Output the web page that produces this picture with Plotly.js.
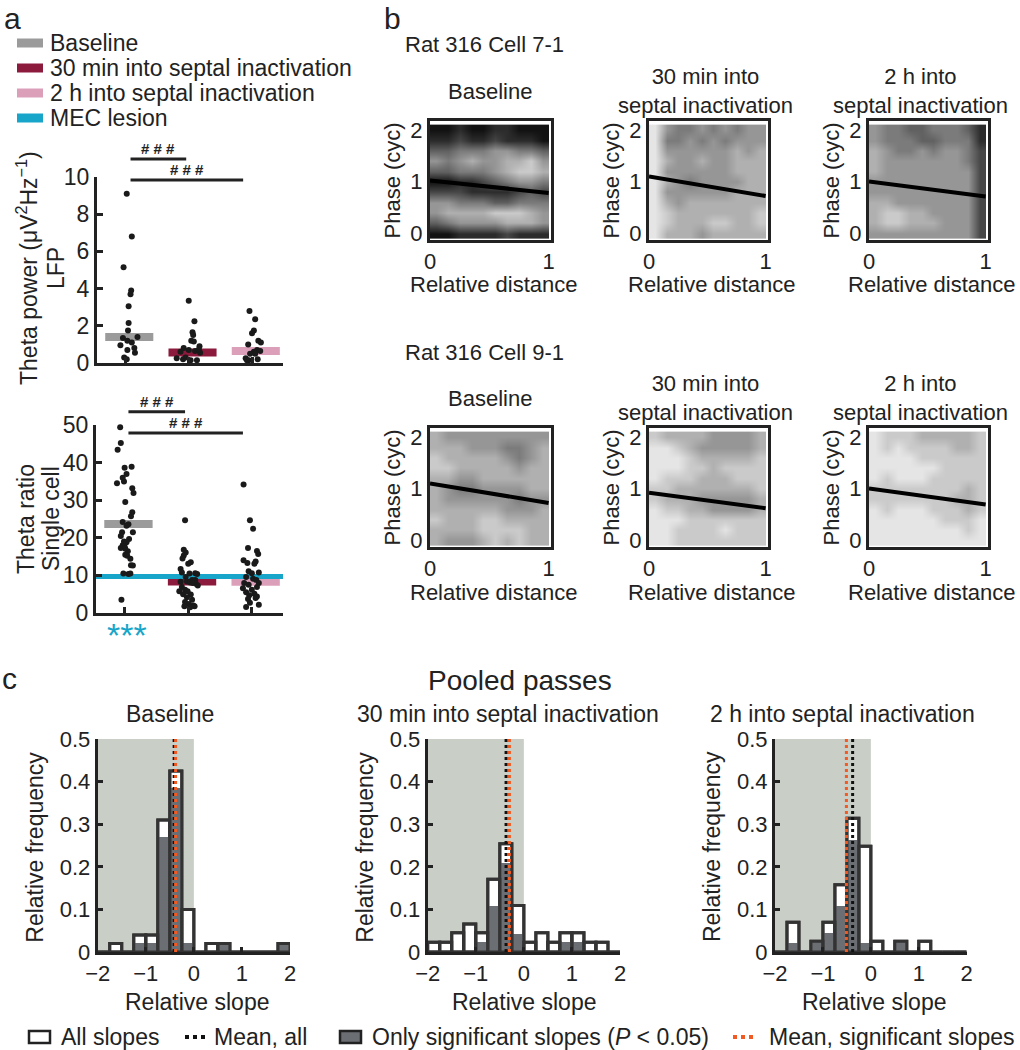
<!DOCTYPE html>
<html>
<head>
<meta charset="utf-8">
<script src="https://cdn.plot.ly/plotly-3.0.1.min.js"></script>
<style>body{margin:0;background:#fff}#chart{width:1020px;height:1050px}</style>
</head>
<body>
<div id="chart"></div>
<script>
// ---------- panel a: theta power / theta ratio ----------
const groups = ['Baseline', '30 min into septal inactivation', '2 h into septal inactivation'];
const groupColors = ['#9b9b9b', '#8b1a3c', '#dc9fba'];
const lesionColor = '#17a6c9';

const lfpMeans = [1.4, 0.57, 0.65];
const lfpBase = [9.1, 6.8, 5.15, 3.9, 3.7, 3.05, 2.15, 1.75, 1.35, 1.4, 1.2, 1.1, 0.95, 0.7, 0.8, 0.55, 0.3, 0.2];
const lfpBaseJit = [0.02, 0.10, -0.03, 0.09, 0.08, 0.05, 0.05, 0.04, -0.04, 0.19, 0.03, 0.10, -0.08, 0.03, 0.14, 0.15, -0.02, 0.02];
const lfp30 = [3.35, 2.25, 1.65, 1.5, 1.2, 1.15, 0.9, 0.8, 0.7, 0.65, 0.6, 0.55, 0.25, 0.2, 0.15, 0.15, 0.3, 0.72];
const lfp30Jit = [0, 0.09, 0.06, 0.07, 0.04, 0.08, 0.17, -0.08, 0, 0.10, -0.13, 0.18, -0.19, -0.09, 0.03, 0.13, -0.05, 0.16];
const lfp2h = [2.8, 2.35, 1.75, 1.6, 1.2, 1.1, 1.0, 0.7, 0.65, 0.6, 0.5, 0.25, 0.15, 0.2, 0.15, 0.5];
const lfp2hJit = [-0.04, 0.05, 0.03, 0, 0.10, 0.14, -0.06, 0.08, 0.13, 0.03, -0.03, -0.10, -0.05, 0.09, -0.08, 0.05];

const ratioMeans = [23.7, 8.4, 8.3];
const lesionRatio = 9.7;
const ratioBase = [49.4, 45.2, 43.4, 38.6, 38.9, 34.5, 37.0, 36.0, 35.0, 33.2, 31.9, 29.5, 26.8, 25.7, 24.2, 23.6, 23.2, 21.5, 21.5, 20.5, 19.7, 19.0, 18.8, 18.0, 17.3, 17.6, 16.4, 15.5, 14.4, 12.7, 12.6, 10.5, 10.4, 10.5, 3.5, 17.1, 15.2];
const ratioBaseJit = [-0.07, -0.06, -0.11, 0, 0.11, -0.12, 0.03, -0.03, -0.01, 0.12, 0.14, 0.01, 0.12, 0.10, -0.03, 0.06, 0.03, -0.04, 0.13, -0.06, 0.07, -0.01, 0.03, -0.03, -0.06, 0, 0.05, 0.01, 0.09, 0.10, 0.13, -0.02, 0.06, 0.09, -0.05, 0.01, 0.04];
const ratio30 = [24.7, 16.8, 16.1, 15.3, 14.5, 13.5, 13.1, 11.7, 10.8, 10.5, 10.6, 10.4, 9.6, 8.8, 8.8, 8.3, 8.4, 8.1, 7.8, 6.9, 6.2, 5.8, 5.8, 5.0, 4.9, 4.2, 3.5, 2.9, 2.4, 2.0, 1.8, 1.5, 1.8, 8.0, 7.3];
const ratio30Jit = [-0.05, -0.07, -0.04, -0.07, -0.09, 0.04, 0, -0.12, -0.10, 0.02, 0.11, 0.14, -0.04, 0.06, 0.11, -0.12, -0.02, 0.03, 0.12, -0.10, -0.05, -0.01, -0.14, -0.08, 0.04, -0.02, 0.06, -0.05, 0.01, 0.08, -0.06, 0.03, 0.10, 0.07, 0.15];
const ratio2h = [34.2, 24.7, 22.4, 17.3, 16.5, 15.7, 14.0, 13.3, 13.7, 13.1, 11.1, 10.6, 10.8, 9.6, 9.1, 8.8, 8.0, 7.5, 8.0, 6.9, 6.6, 6.2, 5.5, 5.1, 4.7, 4.4, 3.7, 4.0, 1.6, 2.2, 2.7];
const ratio2hJit = [-0.13, -0.03, 0.02, -0.06, 0.08, 0.10, -0.13, -0.07, 0.06, 0.04, -0.05, 0, 0.11, -0.09, 0.02, 0.07, -0.12, -0.05, 0.11, 0.08, -0.14, 0, -0.09, 0.04, -0.04, 0.08, -0.06, 0.06, -0.09, 0.11, -0.03];

// significance brackets (from, to, height)
const lfpBrFrom = [1.08, 1.08], lfpBrTo = [1.96, 2.86], lfpBrY = [10.97, 9.84];
const ratioBrFrom = [1.06, 1.06], ratioBrTo = [1.95, 2.86], ratioBrY = [53.5, 47.9];

// ---------- panel b: phase precession examples ----------
const cellNames = ['Rat 316 Cell 7-1', 'Rat 316 Cell 9-1'];
const conditionTitles = ['Baseline', '30 min into<br>septal inactivation', '2 h into<br>septal inactivation'];
const distCenters = [0.05, 0.15, 0.25, 0.35, 0.45, 0.55, 0.65, 0.75, 0.85, 0.95];
const phaseCenters = [0.0, 0.2, 0.4, 0.6, 0.8, 1.0, 1.2, 1.4, 1.6, 1.8, 2.0];
// spike density, rows listed top (phase 2) to bottom (phase 0)
const dens71Base = [
  [9,9,8,9,9,8,8,9,9,9],[8,8,7,8,8,7,8,8,8,9],[6,6,5,5,5,4,4,5,5,6],[4,5,4,3,4,4,3,3,2,4],
  [6,6,5,5,5,4,3,2,2,3],[9,9,8,8,7,6,5,4,4,5],[7,7,7,8,8,8,8,7,6,7],[4,4,5,5,5,6,6,5,5,5],
  [4,3,3,3,3,2,2,2,3,4],[6,5,4,4,4,4,3,3,3,4],[9,9,8,8,8,8,7,8,8,8]];
const dens7130 = [
  [1,4,5,5,4,5,4,5,4,4],[1,5,5,4,5,4,5,4,4,4],[1,4,4,4,4,4,4,3,4,3],[1,3,4,4,3,4,4,3,3,3],
  [1,4,4,4,4,4,4,3,3,3],[1,3,4,5,4,4,4,4,3,3],[1,4,4,4,4,4,4,3,3,3],[1,3,4,3,3,3,3,3,3,3],
  [1,2,3,3,3,3,3,3,3,2],[1,2,3,3,3,2,2,3,3,2],[1,3,3,3,4,3,3,3,3,3]];
const dens712h = [
  [4,5,5,6,6,5,5,5,6,8],[4,5,5,5,6,6,5,5,5,8],[3,4,5,5,4,5,4,4,5,7],[3,4,4,4,4,4,4,4,5,7],
  [3,4,4,4,4,4,4,4,4,7],[4,4,4,4,4,4,4,4,4,7],[4,4,4,4,4,4,4,4,4,7],[3,3,4,4,4,4,4,4,4,7],
  [3,2,2,3,3,4,4,4,4,7],[3,2,2,3,3,3,4,4,4,7],[4,4,4,4,4,4,4,4,4,7]];
const dens91Base = [
  [3,4,4,4,4,4,4,4,4,4],[3,3,3,4,4,4,5,5,4,3],[2,3,3,3,3,3,4,5,4,3],[2,2,3,3,3,3,3,4,3,3],
  [3,3,4,4,3,3,3,3,3,3],[3,4,5,5,4,4,4,4,3,3],[3,4,4,4,4,4,4,5,4,4],[3,3,3,3,3,3,4,4,4,3],
  [2,3,3,3,2,2,3,3,3,3],[3,3,3,3,2,2,2,2,3,3],[3,4,4,4,3,2,3,2,3,3]];
const dens9130 = [
  [2,3,3,3,3,4,4,4,4,3],[1,1,2,3,4,4,4,4,4,3],[1,1,1,2,3,3,3,3,3,2],[1,1,1,2,2,3,2,2,2,2],
  [1,2,2,2,3,3,3,2,2,2],[2,2,3,3,3,3,3,3,3,2],[2,3,3,3,4,4,4,4,4,3],[1,2,2,3,3,4,4,4,4,3],
  [1,1,1,2,2,2,2,2,2,2],[1,1,2,2,2,2,1,2,2,2],[1,1,2,2,2,2,2,2,2,2]];
const dens912h = [
  [1,2,2,2,3,3,3,3,3,2],[1,2,1,2,2,2,2,3,3,2],[1,1,1,1,2,2,2,2,2,2],[1,1,1,1,1,1,2,2,2,2],
  [1,2,1,1,1,2,2,2,2,2],[2,2,2,2,2,2,2,2,3,2],[2,2,2,2,2,2,2,3,3,2],[1,2,1,1,1,2,2,2,3,2],
  [1,1,1,1,1,1,2,2,2,1],[1,1,1,1,1,1,1,1,2,1],[1,1,1,1,1,1,1,1,1,1]];
const densities = [dens71Base, dens7130, dens712h, dens91Base, dens9130, dens912h];
const regStart = [1.02, 1.1, 1.0, 1.1, 0.92, 1.0];
const regEnd = [0.78, 0.72, 0.71, 0.72, 0.62, 0.69];
const regDist = [0, 1];

// ---------- panel c: pooled slope histograms ----------
const slopeBins = [-1.875, -1.625, -1.375, -1.125, -0.875, -0.625, -0.375, -0.125, 0.125, 0.375, 0.625, 0.875, 1.125, 1.375, 1.625, 1.875];
const histTitles = ['Baseline', '30 min into septal inactivation', '2 h into septal inactivation'];
const allBase = [0, 0.02, 0, 0.04, 0.04, 0.31, 0.425, 0.10, 0, 0.02, 0.02, 0, 0, 0, 0, 0.02];
const sigBase = [0, 0, 0, 0.02, 0.02, 0.27, 0.385, 0.02, 0, 0, 0.02, 0, 0, 0, 0, 0.02];
const all30 = [0.023, 0.023, 0.045, 0.066, 0.045, 0.171, 0.254, 0.109, 0.023, 0.045, 0.023, 0.045, 0.045, 0.023, 0.023, 0];
const sig30 = [0, 0, 0, 0, 0.023, 0.107, 0.21, 0.043, 0, 0, 0, 0.023, 0.023, 0, 0, 0];
const all2h = [0, 0.07, 0, 0.025, 0.07, 0.158, 0.314, 0.248, 0.025, 0, 0.025, 0, 0.025, 0, 0, 0];
const sig2h = [0, 0.021, 0, 0.025, 0.045, 0.109, 0.263, 0.021, 0, 0, 0.025, 0, 0, 0, 0, 0];
const meanAll = [-0.41, -0.37, -0.38];
const meanSig = [-0.38, -0.30, -0.51];
const shadeSpan = [-2, 0];

// ---------- drawing ----------
const FONT = 'Liberation Sans, Arial, Helvetica, sans-serif';
const INK = '#222';
const fx = p => p / 1020;
const fy = p => 1 - p / 1050;

function ax(o) {
  return Object.assign({
    showgrid: false, zeroline: false, showline: true, linecolor: INK, linewidth: 3,
    ticks: 'inside', ticklen: 6, tickwidth: 3, tickcolor: INK,
    tickfont: {family: FONT, size: 23, color: INK}, fixedrange: true
  }, o);
}

const data = [];
const layout = {
  width: 1020, height: 1050, margin: {l: 0, r: 0, t: 0, b: 0},
  paper_bgcolor: '#fff', plot_bgcolor: 'rgba(0,0,0,0)',
  showlegend: false, barmode: 'overlay', bargap: 0,
  font: {family: FONT, color: INK}, annotations: [], shapes: []
};
function note(text, x, y, o) {
  layout.annotations.push(Object.assign({
    text: text, x: fx(x), y: fy(y), xref: 'paper', yref: 'paper', showarrow: false,
    xanchor: 'center', yanchor: 'middle', font: {family: FONT, size: 23, color: INK}
  }, o || {}));
}

// panel a axes
const catRange = [0.55, 3.49];
layout.xaxis = ax({domain: [fx(97), fx(283)], range: catRange, anchor: 'y', tickvals: [1, 2, 3], showticklabels: false});
layout.yaxis = ax({domain: [fy(363), fy(177)], range: [0, 10], anchor: 'x', tickvals: [0, 2, 4, 6, 8, 10]});
layout.yaxis2 = {domain: [fy(363), fy(140)], range: [0, (363 - 140) / ((363 - 177) / 10)], anchor: 'x', visible: false, fixedrange: true};
layout.xaxis2 = ax({domain: [fx(96), fx(283)], range: catRange, anchor: 'y3', tickvals: [1, 2, 3], showticklabels: false});
layout.yaxis3 = ax({domain: [fy(613), fy(425)], range: [0, 50], anchor: 'x2', tickvals: [0, 10, 20, 30, 40, 50]});
layout.yaxis4 = {domain: [fy(613), fy(395)], range: [0, (613 - 395) / ((613 - 425) / 50)], anchor: 'x2', visible: false, fixedrange: true};

const meanOffset = 0.06, meanHalf = 0.38;
function meanBars(means, xa, ya) {
  means.forEach((m, i) => {
    const c = i + 1 + meanOffset;
    data.push({type: 'scatter', mode: 'lines', x: [c - meanHalf, c + meanHalf], y: [m, m], xaxis: xa, yaxis: ya,
      line: {color: groupColors[i], width: 8}, hoverinfo: 'skip'});
  });
}
function dots(vals, jit, cat, xa, ya) {
  data.push({type: 'scatter', mode: 'markers', x: jit.map(j => cat + j), y: vals, xaxis: xa, yaxis: ya,
    cliponaxis: false, marker: {color: '#1a1a1a', size: 6}, hoverinfo: 'skip'});
}
function brackets(from, to, ys, xa, ya, xref, yref) {
  from.forEach((f, i) => {
    data.push({type: 'scatter', mode: 'lines', x: [f, to[i]], y: [ys[i], ys[i]], xaxis: xa, yaxis: ya,
      line: {color: INK, width: 3}, hoverinfo: 'skip'});
    layout.annotations.push({text: '<b># # #</b>', x: (f + to[i]) / 2, y: ys[i], xref: xref, yref: yref, showarrow: false,
      xanchor: 'center', yanchor: 'bottom', font: {family: FONT, size: 15, color: INK}});
  });
}

meanBars(lfpMeans, 'x', 'y');
dots(lfpBase, lfpBaseJit, 1, 'x', 'y');
dots(lfp30, lfp30Jit, 2, 'x', 'y');
dots(lfp2h, lfp2hJit, 3, 'x', 'y');
brackets(lfpBrFrom, lfpBrTo, lfpBrY, 'x', 'y2', 'x', 'y2');

meanBars(ratioMeans, 'x2', 'y3');
data.push({type: 'scatter', mode: 'lines', x: catRange, y: [lesionRatio, lesionRatio], xaxis: 'x2', yaxis: 'y3',
  line: {color: lesionColor, width: 5}, hoverinfo: 'skip'});
dots(ratioBase, ratioBaseJit, 1, 'x2', 'y3');
dots(ratio30, ratio30Jit, 2, 'x2', 'y3');
dots(ratio2h, ratio2hJit, 3, 'x2', 'y3');
brackets(ratioBrFrom, ratioBrTo, ratioBrY, 'x2', 'y4', 'x2', 'y4');

// panel a legend
const legendLabels = groups.concat(['MEC lesion']);
const legendColors = groupColors.concat([lesionColor]);
legendLabels.forEach((lab, i) => {
  const yc = 43 + i * 25;
  layout.shapes.push({type: 'rect', xref: 'paper', yref: 'paper', x0: fx(17), x1: fx(43), y0: fy(yc + 4.5), y1: fy(yc - 4.5),
    fillcolor: legendColors[i], line: {width: 0}});
  note(lab, 48, yc, {xanchor: 'left'});
});
note('Theta power (μV<sup>2</sup>Hz<sup>−1</sup>)', 27, 268, {textangle: -90});
note('LFP', 56, 268, {textangle: -90});
note('Theta ratio', 26, 519, {textangle: -90});
note('Single cell', 51, 519, {textangle: -90});
note('***', 127, 635, {font: {family: FONT, size: 34, color: lesionColor}});

// panel b
const bCols = [[430, 551], [649, 768], [869, 988]];
const bRows = [[121, 240], [428, 547]];
const bTitleX = [490, 705, 920];
densities.forEach((dens, k) => {
  const r = Math.floor(k / 3), c = k % 3;
  const xi = 3 + k, yi = 5 + k;
  layout['xaxis' + xi] = ax({domain: [fx(bCols[c][0]), fx(bCols[c][1])], range: [0, 1.02], anchor: 'y' + yi,
    tickvals: [0, 1], mirror: true, ticks: '', tickfont: {family: FONT, size: 22, color: INK}});
  layout['yaxis' + yi] = ax({domain: [fy(bRows[r][1]), fy(bRows[r][0])], range: [-0.13, 2.17], anchor: 'x' + xi,
    tickvals: [0, 1, 2], mirror: true, ticks: '', tickfont: {family: FONT, size: 22, color: INK}});
  data.push({type: 'heatmap', x: distCenters, y: phaseCenters, z: dens.slice().reverse(), xaxis: 'x' + xi, yaxis: 'y' + yi,
    zmin: 0, zmax: 9, colorscale: [[0, '#ffffff'], [1, '#121212']], showscale: false, zsmooth: 'best', hoverinfo: 'skip'});
  data.push({type: 'scatter', mode: 'lines', x: regDist, y: [regStart[k], regEnd[k]], xaxis: 'x' + xi, yaxis: 'y' + yi,
    line: {color: '#000', width: 4}, hoverinfo: 'skip'});
  const top = bRows[r][0];
  note(conditionTitles[c], bTitleX[c], top - 30, {font: {family: FONT, size: 22, color: INK}});
  note('Phase (cyc)', bCols[c][0] - 38, (top + bRows[r][1]) / 2, {textangle: -90, font: {family: FONT, size: 22, color: INK}});
  note('Relative distance', (bCols[c][0] + bCols[c][1]) / 2 + 3, bRows[r][1] + 45, {font: {family: FONT, size: 22, color: INK}});
});
note(cellNames[0], 403, 45, {xanchor: 'left', font: {family: FONT, size: 22, color: INK}});
note(cellNames[1], 403, 352, {xanchor: 'left', font: {family: FONT, size: 22, color: INK}});

// panel c
const cCols = [[97.7, 290], [427.7, 620], [775, 966.7]];
const allSets = [allBase, all30, all2h];
const sigSets = [sigBase, sig30, sig2h];
const cTitleX = [170, 508, 842];
const cSlopeX = [197, 524, 874];
cCols.forEach((col, i) => {
  const xi = 9 + i, yi = 11 + i;
  const xa = 'x' + xi, ya = 'y' + yi;
  layout['xaxis' + xi] = ax({domain: [fx(col[0]), fx(col[1])], range: [-2, 2], anchor: ya,
    tickvals: [-2, -1, 0, 1, 2], ticklen: 5, tickfont: {family: FONT, size: 22, color: INK}});
  layout['yaxis' + yi] = ax({domain: [fy(952), fy(739)], range: [0, 0.5], anchor: xa,
    tickvals: [0, 0.1, 0.2, 0.3, 0.4, 0.5], ticktext: ['0', '0.1', '0.2', '0.3', '0.4', '0.5'], ticklen: 5,
    tickfont: {family: FONT, size: 22, color: INK}});
  layout.shapes.push({type: 'rect', xref: xa, yref: ya, x0: shadeSpan[0], x1: shadeSpan[1], y0: 0, y1: 0.5,
    fillcolor: '#c9cec7', line: {width: 0}, layer: 'below'});
  data.push({type: 'bar', x: slopeBins, y: allSets[i], width: 0.25, xaxis: xa, yaxis: ya,
    marker: {color: '#ffffff', line: {color: '#333', width: 3}}, hoverinfo: 'skip'});
  data.push({type: 'bar', x: slopeBins, y: sigSets[i], width: 0.25, xaxis: xa, yaxis: ya,
    marker: {color: '#6b6e72', line: {width: 0}}, hoverinfo: 'skip'});
  data.push({type: 'bar', x: slopeBins, y: allSets[i], width: 0.25, xaxis: xa, yaxis: ya,
    marker: {color: 'rgba(0,0,0,0)', line: {color: '#333', width: 3}}, hoverinfo: 'skip'});
  data.push({type: 'scatter', mode: 'lines', x: [meanAll[i], meanAll[i]], y: [0, 0.5], xaxis: xa, yaxis: ya,
    line: {color: '#111', width: 3, dash: 'dot'}, hoverinfo: 'skip'});
  data.push({type: 'scatter', mode: 'lines', x: [meanSig[i], meanSig[i]], y: [0, 0.5], xaxis: xa, yaxis: ya,
    line: {color: '#f15a22', width: 3, dash: 'dot'}, hoverinfo: 'skip'});
  note(histTitles[i], cTitleX[i], 714);
  note('Relative frequency', col[0] - 63, 847, {textangle: -90});
  note('Relative slope', cSlopeX[i], 1002);
});
note('Pooled passes', 520, 680, {font: {family: FONT, size: 28, color: INK}});

// bottom legend
layout.shapes.push({type: 'rect', xref: 'paper', yref: 'paper', x0: fx(29), x1: fx(50), y0: fy(1043), y1: fy(1031),
  fillcolor: '#fff', line: {color: INK, width: 2.5}});
layout.shapes.push({type: 'line', xref: 'paper', yref: 'paper', x0: fx(185), x1: fx(207), y0: fy(1037), y1: fy(1037),
  line: {color: '#111', width: 4, dash: 'dot'}});
layout.shapes.push({type: 'rect', xref: 'paper', yref: 'paper', x0: fx(340), x1: fx(361), y0: fy(1043), y1: fy(1031),
  fillcolor: '#6b6e72', line: {color: INK, width: 2.5}});
layout.shapes.push({type: 'line', xref: 'paper', yref: 'paper', x0: fx(733), x1: fx(757), y0: fy(1037), y1: fy(1037),
  line: {color: '#f15a22', width: 4, dash: 'dot'}});
note('All slopes', 59, 1037, {xanchor: 'left'});
note('Mean, all', 212, 1037, {xanchor: 'left'});
note('Only significant slopes (<i>P</i> &lt; 0.05)', 370, 1037, {xanchor: 'left'});
note('Mean, significant slopes', 767, 1037, {xanchor: 'left'});

// panel letters
note('a', 2, 0, {xanchor: 'left', yanchor: 'top', font: {family: FONT, size: 30, color: INK}});
note('b', 382, 0, {xanchor: 'left', yanchor: 'top', font: {family: FONT, size: 30, color: INK}});
note('c', 0, 678, {xanchor: 'left', font: {family: FONT, size: 30, color: INK}});

Plotly.newPlot('chart', data, layout, {staticPlot: true});
</script>
</body>
</html>
